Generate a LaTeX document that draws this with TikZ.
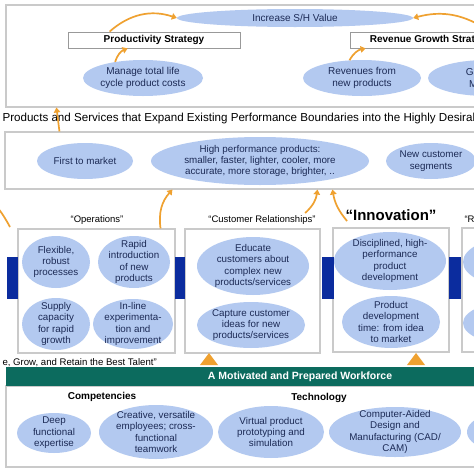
\documentclass[tikz,border=0pt]{standalone}
\usepackage{fontspec}
\setmainfont{Liberation Sans}
\usetikzlibrary{positioning, calc, arrows.meta, shapes.geometric}
\definecolor{bubblefill}{HTML}{B3C9F0}
\definecolor{bubbletext}{HTML}{1C2A55}
\definecolor{linkblue}{HTML}{0B2C9E}
\definecolor{floworange}{HTML}{EFA130}
\definecolor{bannergreen}{HTML}{0C6B5E}
\definecolor{panelgrey}{HTML}{CACACA}

\begin{document}
\begin{tikzpicture}[x=1pt,y=-1pt,
    panel/.style={rectangle, draw=panelgrey, line width=1.1pt, inner sep=0pt},
    strat/.style={rectangle, draw=black!40, line width=0.8pt, inner sep=0pt, minimum height=16pt, font=\bfseries\fontsize{10}{12}\selectfont},
    btext/.style={text=bubbletext, align=center, inner sep=0pt, font=\fontsize{9.8}{11.4}\selectfont},
    bubble/.style n args={3}{ellipse, fill=bubblefill, inner sep=0pt, minimum width=#1, minimum height=#2, label={[btext]center:{#3}}},
    link/.style={rectangle, fill=linkblue, inner sep=0pt, minimum width=11pt, minimum height=42pt},
    flow/.style={draw=floworange, line width=1.7pt, -{Triangle[length=5pt,width=6.5pt]}},
    quoted/.style={font=\fontsize{9.5}{11}\selectfont},
    ]
    \useasboundingbox (0,0) rectangle (474,474);
    \clip (0,0) rectangle (474,474);
    \fill[white] (0,0) rectangle (474,474);

    % value layer
    \node[panel, minimum width=588, minimum height=102] (topframe) at (300,56) {};
    \node[strat, minimum width=172] (prodbox) at (154,40) {Productivity Strategy};
    \node[strat, minimum width=162] (revbox) at (431,40) {Revenue Growth Strategy};
    \begin{scope}[btext/.append style={font=\fontsize{10}{12.3}\selectfont}]
        \node[bubble={236}{18}{Increase S/H Value}] (shv) at (295,18) {};
        \node[bubble={120}{36}{Manage total life\\cycle product costs}] (manage) at (143,78) {};
        \node[bubble={118}{36}{Revenues from\\new products}] (revenues) at (362,78) {};
        \node[bubble={118}{36}{Gain new\\Markets}] (gain) at (487,78) {};
    \end{scope}

    % customer layer
    \node[anchor=west, font=\fontsize{11.6}{13}\selectfont] (custhead) at (-1,118) {Products and Services that Expand Existing Performance Boundaries into the Highly Desirable};
    \node[panel, minimum width=589, minimum height=57] (midframe) at (299.5,160.5) {};
    \node[bubble={96}{36}{First to market}] (first) at (85,161) {};
    \node[bubble={218}{48}{High performance products:\\smaller, faster, lighter, cooler, more\\accurate, more storage, brighter, ..}] (highperf) at (260,161) {};
    \node[bubble={90}{36}{New customer\\segments}] (segments) at (431,161) {};

    % internal processes
    \node[quoted] (opslabel) at (97,220) {“Operations”};
    \node[quoted] (crlabel) at (262,220) {“Customer Relationships”};
    \node[font=\bfseries\fontsize{15}{18}\selectfont] (innovlabel) at (391,215) {“Innovation”};
    \node[quoted, anchor=west] (reglabel) at (461,220) {“Regulatory and Social”};

    \node[panel, minimum width=157, minimum height=124] (opsbox) at (96.5,291) {};
    \node[panel, minimum width=135, minimum height=124] (crbox) at (252.5,291) {};
    \node[panel, minimum width=116, minimum height=124] (innovbox) at (391,290) {};
    \node[panel, minimum width=138, minimum height=124] (regbox) at (531,290) {};

    \node[link] (link0) at (12,278) {};
    \node[link, minimum width=10pt] (link1) at (180,278) {};
    \node[link, minimum width=12pt] (link2) at (328,278) {};
    \node[link, minimum width=12pt] (link3) at (455,278) {};

    \node[bubble={68}{52}{Flexible,\\robust\\processes}] (flexible) at (56,262) {};
    \node[bubble={72}{52}{Rapid\\introduction\\of new\\products}] (rapid) at (134,262) {};
    \node[bubble={68}{52}{Supply\\capacity\\for rapid\\growth}] (supply) at (56,324) {};
    \node[bubble={80}{50}{In-line\\experimenta-\\tion and\\improvement}] (inline) at (133,324) {};
    \node[bubble={112}{58}{Educate\\customers about\\complex new\\products/services}] (educate) at (253,266) {};
    \node[bubble={108}{46}{Capture customer\\ideas for new\\products/services}] (capture) at (251,325) {};
    \node[bubble={112}{58}{Disciplined, high-\\performance\\product\\development}] (disciplined) at (390,261) {};
    \node[bubble={98}{52}{Product\\development\\time: from idea\\to market}] (devtime) at (391,322) {};
    \node[bubble={104}{50}{}] (regtop) at (515,262) {};
    \node[bubble={104}{44}{}] (regbottom) at (515,323) {};

    \fill[floworange] (200,365) -- (209,353) -- (218,365) -- cycle;
    \fill[floworange] (407,365) -- (416,353) -- (425,365) -- cycle;

    % learning and growth
    \node[anchor=west, font=\fontsize{9.6}{11}\selectfont] (talent) at (-1,363) {e, Grow, and Retain the Best Talent”};
    \node[panel, minimum width=588, minimum height=81] (botframe) at (300,426.5) {};
    \node[rectangle, fill=bannergreen, inner sep=0pt, minimum width=588, minimum height=19, text=white, font=\bfseries\fontsize{10.5}{12}\selectfont] (workforce) at (300,376.5) {A Motivated and Prepared Workforce};
    \node[font=\bfseries\fontsize{10}{12}\selectfont] (competencies) at (102,397) {Competencies};
    \node[font=\bfseries\fontsize{10}{12}\selectfont] (technology) at (319,398) {Technology};
    \node[bubble={74}{40}{Deep\\functional\\expertise}] (deep) at (54,433) {};
    \node[bubble={114}{54}{Creative, versatile\\employees;  cross-\\functional\\teamwork}] (creative) at (156,432) {};
    \node[bubble={106}{52}{Virtual product\\prototyping and\\simulation}] (virtual) at (271,432) {};
    \node[bubble={132}{50}{Computer-Aided\\Design and\\Manufacturing (CAD/\\CAM)}] (cadcam) at (395,432) {};
    \node[bubble={126}{50}{}] (techmore) at (530,432) {};

    % cause and effect arrows
    \coordinate (revtail) at ($(revbox.north west)+(140,0)$);
    \coordinate (lefttail) at (10,227);
    \coordinate (leftend) at (-16,194);
    \draw[flow] (manage.150) to[bend left=25] ($(prodbox.south west)+(60,0)$);
    \draw[flow] ($(prodbox.north west)+(42,0)$) to[bend left=30] (shv.west);
    \draw[flow] (revenues.125) to[bend left=25] ($(revbox.south west)+(16,0)$);
    \draw[flow] (revtail) to[bend right=25] (shv.east);
    \draw[flow] ($(midframe.north west)+(55,0)$) -- ($(topframe.south west)+(51,0)$);
    \draw[flow] ($(opsbox.north east)+(-15,0)$) to[bend left=25] ($(midframe.south west)+(168,0)$);
    \draw[flow] ($(crlabel.north east)+(-14,1)$) to[bend right=20] ($(midframe.south west)+(313,0)$);
    \draw[flow] ($(innovlabel.south west)+(5,-3)$) to[bend left=15] ($(midframe.south west)+(328,0)$);
    \draw[flow] (lefttail) to[bend right=10] (leftend);
\end{tikzpicture}
\end{document}
